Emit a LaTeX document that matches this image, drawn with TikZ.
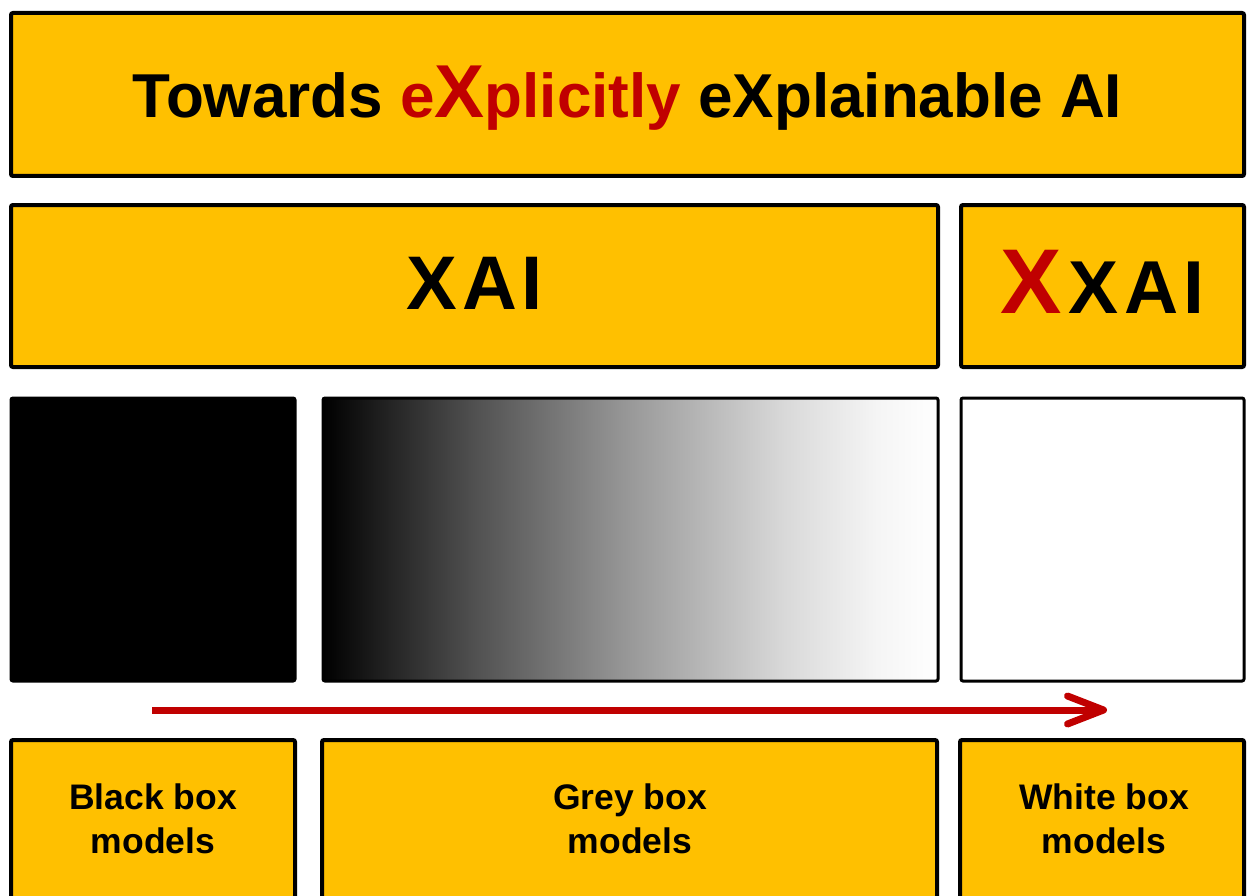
\documentclass[tikz,border=0pt]{standalone}
\usepackage{fontspec}
\setmainfont{Liberation Sans}
\usetikzlibrary{arrows.meta}
\definecolor{gold}{HTML}{FFC000}
\definecolor{xred}{HTML}{C00000}
\pgfdeclarehorizontalshading{greyfade}{100bp}{color(0bp)=(black); color(25bp)=(black); color(30bp)=(black!87); color(37.5bp)=(black!68); color(50bp)=(black!40); color(62.5bp)=(black!15); color(70bp)=(black!4); color(75bp)=(white); color(100bp)=(white)}
\begin{document}
\begin{tikzpicture}[x=1pt,y=-1pt,
  panel/.style={draw=black, line width=4pt, fill=gold, rounded corners=2pt, inner sep=0pt, outer sep=0pt, font=\bfseries},
  swatch/.style={draw=black, line width=3pt, rounded corners=2pt, inner sep=0pt, outer sep=0pt, minimum height=283pt},
  caption/.style={anchor=north, inner sep=0pt, align=center, font=\fontsize{35.5}{44}\selectfont\bfseries},
  progress/.style={draw=xred, line width=7pt, -{Straight Barb[length=36pt, width=28pt, round]}}]
\useasboundingbox (0,0) rectangle (1252,896);
\clip (0,0) rectangle (1252,896);
% title
\node[panel, minimum width=1233pt, minimum height=163pt, text height=47pt, text depth=0pt,
  font=\fontsize{62}{70}\selectfont\bfseries] (title) at (627.5,94.5)
  {Towards {\color{xred}e{\fontsize{75}{75}\selectfont X}plicitly} eXplainable AI};
% second row
\node[panel, minimum width=927pt, minimum height=162pt, text height=46pt, text depth=0pt,
  font=\fontsize{76}{80}\selectfont\bfseries] (xai) at (474.5,286) {X\kern6pt A\kern4pt I};
\node[panel, minimum width=283pt, minimum height=162pt, text height=54pt, text depth=0pt,
  font=\fontsize{75}{80}\selectfont\bfseries] (xxai) at (1102.5,286)
  {{\color{xred}\fontsize{92}{92}\selectfont X}\kern6pt X\kern6pt A\kern5pt I};
% third row
\node[swatch, fill=black, minimum width=284pt] (blackbox) at (153,539.5) {};
\node[swatch, shading=greyfade, minimum width=615pt] (greybox) at (630.5,539.5) {};
\node[swatch, fill=white, minimum width=283pt] (whitebox) at (1102.5,539.5) {};
% arrow
\coordinate (arrS) at (152,710);
\coordinate (arrE) at (1107,710);
\draw[progress] (arrS) -- (arrE);
% bottom row
\node[panel, minimum width=284pt, minimum height=220pt] (bbm) at (153,850) {};
\node[panel, minimum width=615pt, minimum height=220pt] (gbm) at (629.5,850) {};
\node[panel, minimum width=284pt, minimum height=220pt] (wbm) at (1102,850) {};
\node[caption] (bbmt) at (153,784) {Black box\\models};
\node[caption] (gbmt) at (630,784) {Grey box\\models};
\node[caption] (wbmt) at (1104,784) {White box\\models};
\end{tikzpicture}
\end{document}
